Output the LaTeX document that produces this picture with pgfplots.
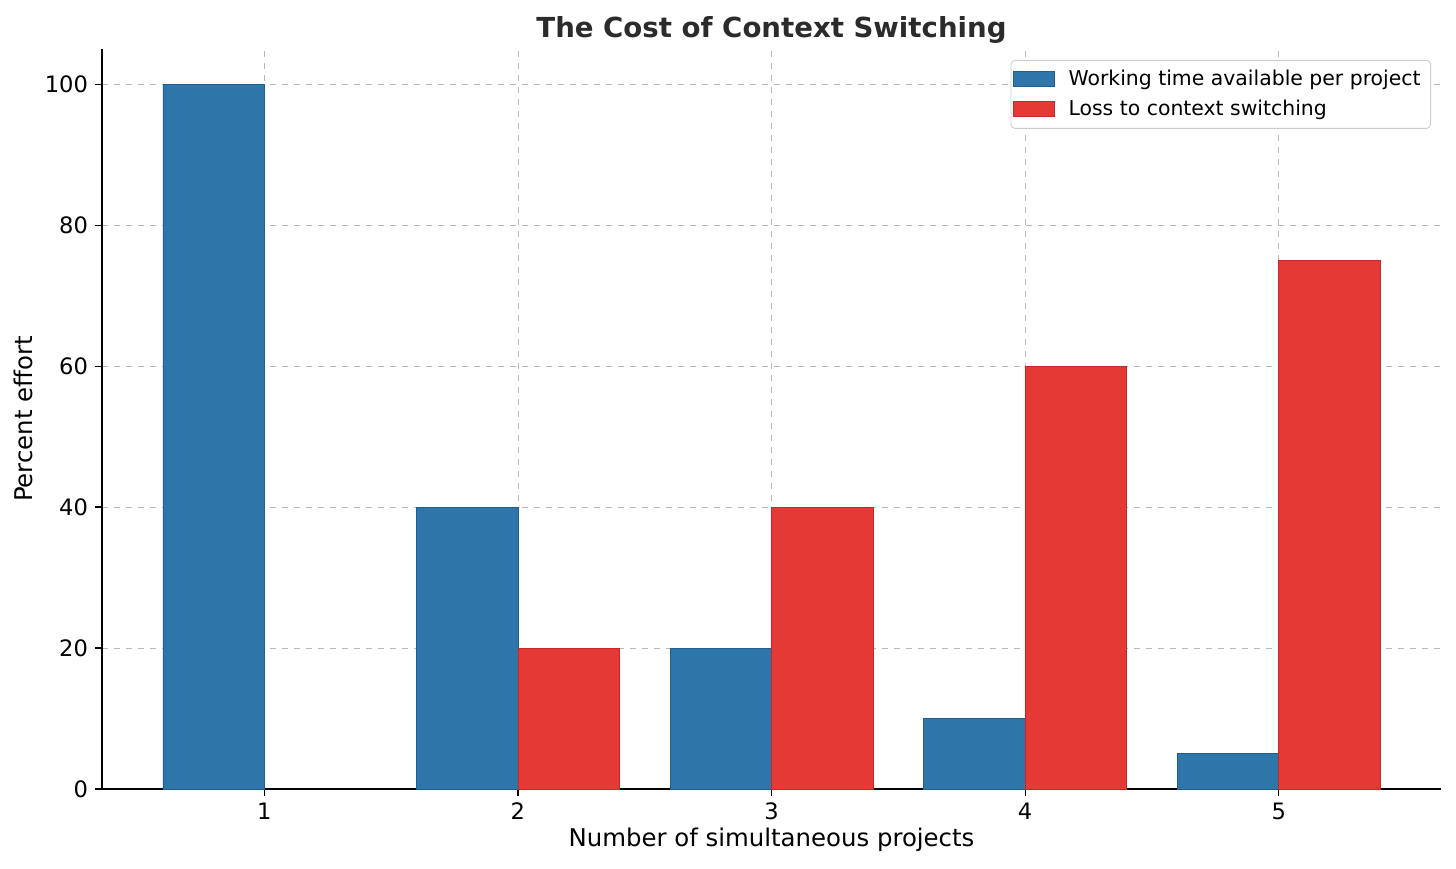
\documentclass[border=0pt]{standalone}
\usepackage{pgfplots}
\pgfplotsset{compat=1.18}
\usepackage{fontspec}
\setmainfont{DejaVu Sans}
\definecolor{cblue}{HTML}{2E75AA}
\definecolor{cblueedge}{HTML}{1F5E8E}
\definecolor{cred}{HTML}{E53935}
\definecolor{crededge}{HTML}{C62828}
\definecolor{titlec}{HTML}{2B2B2B}
\begin{document}
\begin{tikzpicture}
\begin{axis}[
  name=ax,
  scale only axis,
  width=669.5pt, height=370pt,
  xmin=0.36, xmax=5.64, ymin=0, ymax=105,
  axis x line*=bottom, axis y line*=left,
  axis line style={-, line width=0.8pt, black},
  xtick={1,2,3,4,5},
  ytick={0,20,40,60,80,100},
  tick align=outside,
  major tick length=3.5pt,
  tick style={line width=0.6pt, black},
  grid=major,
  major grid style={dashed, line width=0.4pt, color=black!28},
  /pgf/number format/assume math mode=true,
  ticklabel style={font=\fontsize{11.3}{13}\selectfont},
  label style={font=\fontsize{12.2}{14}\selectfont},
  xlabel style={yshift=3pt},
  ylabel style={yshift=-1pt},
  xlabel={Number of simultaneous projects},
  ylabel={Percent effort},
  title={\textbf{The Cost of Context Switching}},
  title style={font=\fontsize{13.8}{16}\selectfont, text=titlec, yshift=-7pt},
  ybar, bar width=0.4,
  legend style={at={(1,1)}, anchor=north east, xshift=-5pt, yshift=-5.5pt,
    draw=black!20, rounded corners=2pt, font=\fontsize{10.2}{12}\selectfont,
    row sep=1.5pt, inner xsep=1pt, inner ysep=3pt,
    nodes={inner xsep=4pt}},
  legend cell align=left,
  legend image code/.code={\draw[#1, sharp corners] (0cm,-3.5pt) rectangle (20.5pt,4pt); \path (23.5pt,0pt);},
]
\addplot[fill=cblue, draw=cblueedge, line width=0.3pt, bar shift=-0.2] coordinates {(1,100) (2,40) (3,20) (4,10) (5,5)};
\addlegendentry{Working time available per project}
\addplot[fill=cred, draw=crededge, line width=0.3pt, bar shift=0.2] coordinates {(2,20) (3,40) (4,60) (5,75)};
\addlegendentry{Loss to context switching}
\end{axis}
\pgfresetboundingbox
\path ([xshift=-51pt,yshift=-39.5pt]ax.south west) rectangle ([xshift=7.5pt,yshift=24.5pt]ax.north east);
\end{tikzpicture}
\end{document}
